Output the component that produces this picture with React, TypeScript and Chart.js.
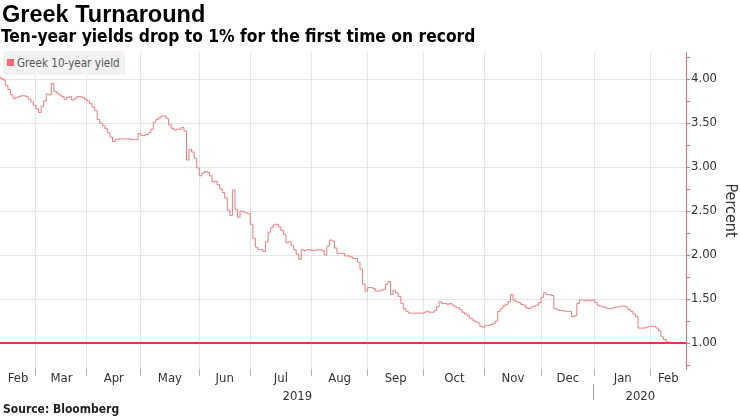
import React, { useEffect, useRef } from 'react';
import { Chart, registerables } from 'chart.js';

Chart.register(...registerables);

// Greek 10-year yield, one value per trading day (Feb 2019 – Feb 2020), percent
const YIELD_VALUES: number[] = [
  4.03, 4.01, 3.99, 3.93, 3.88, 3.82, 3.78, 3.79, 3.80, 3.81,
  3.81, 3.80, 3.77, 3.74, 3.70, 3.66, 3.62, 3.69, 3.75, 3.83,
  3.82, 3.95, 3.86, 3.84, 3.82, 3.80, 3.77, 3.79, 3.80, 3.76,
  3.78, 3.80, 3.80, 3.79, 3.77, 3.75, 3.72, 3.68, 3.64, 3.54,
  3.50, 3.47, 3.44, 3.39, 3.34, 3.29, 3.31, 3.32, 3.32, 3.32,
  3.32, 3.32, 3.31, 3.31, 3.31, 3.38, 3.36, 3.36, 3.37, 3.39,
  3.43, 3.51, 3.54, 3.56, 3.58, 3.58, 3.55, 3.48, 3.44, 3.42,
  3.43, 3.43, 3.45, 3.41, 3.08, 3.20, 3.17, 3.10, 2.99, 2.90,
  2.93, 2.95, 2.94, 2.90, 2.83, 2.84, 2.80, 2.75, 2.71, 2.65,
  2.51, 2.45, 2.74, 2.52, 2.43, 2.50, 2.49, 2.48, 2.47, 2.35,
  2.19, 2.09, 2.06, 2.06, 2.04, 2.15, 2.26, 2.31, 2.34, 2.35,
  2.32, 2.28, 2.23, 2.14, 2.15, 2.11, 2.06, 2.01, 1.95, 2.06,
  2.05, 2.06, 2.06, 2.05, 2.05, 2.06, 2.06, 2.05, 2.00, 2.10,
  2.17, 2.16, 2.08, 2.02, 2.02, 2.02, 1.99, 1.99, 1.98, 1.96,
  1.96, 1.92, 1.84, 1.67, 1.59, 1.63, 1.63, 1.62, 1.59, 1.59,
  1.60, 1.61, 1.67, 1.70, 1.55, 1.60, 1.57, 1.53, 1.45, 1.39,
  1.36, 1.34, 1.34, 1.34, 1.34, 1.34, 1.34, 1.35, 1.36, 1.35,
  1.35, 1.37, 1.41, 1.47, 1.45, 1.45, 1.44, 1.45, 1.43, 1.41,
  1.40, 1.38, 1.35, 1.33, 1.31, 1.28, 1.26, 1.24, 1.23, 1.19,
  1.18, 1.20, 1.20, 1.21, 1.22, 1.25, 1.36, 1.39, 1.42, 1.44,
  1.47, 1.55, 1.49, 1.47, 1.46, 1.44, 1.43, 1.40, 1.39, 1.41,
  1.42, 1.43, 1.46, 1.52, 1.57, 1.55, 1.55, 1.54, 1.39, 1.38,
  1.37, 1.37, 1.36, 1.36, 1.36, 1.30, 1.31, 1.45, 1.49, 1.49,
  1.48, 1.49, 1.48, 1.49, 1.46, 1.43, 1.42, 1.41, 1.40, 1.39,
  1.39, 1.40, 1.41, 1.41, 1.42, 1.42, 1.41, 1.38, 1.36, 1.33,
  1.30, 1.17, 1.17, 1.17, 1.18, 1.19, 1.19, 1.19, 1.17, 1.14,
  1.07, 1.04, 1.01, 1.01,
];

// 1% reference line
const FLOOR_LEVEL: number[] = [1.0, 1.0];

// trading-day index where each month begins (Mar 2019 ... Feb 2020)
const MONTH_STARTS: number[] = [14, 34, 55, 78, 98, 122, 144, 166, 190, 212, 233, 255];
const MONTH_LABELS: string[] = ['Feb', 'Mar', 'Apr', 'May', 'Jun', 'Jul', 'Aug', 'Sep', 'Oct', 'Nov', 'Dec', 'Jan', 'Feb'];
const YEAR_LABELS: string[] = ['2019', '2020'];
const YEAR_BREAK = 233;
const X_RANGE: number[] = [-0.1, 268.8];
const Y_RANGE: number[] = [0.705, 4.307];
const Y_STEP = 0.25;
const Y_LABEL_STEP = 0.5;

const LINE_COLOR = '#f07a7c';
const FLOOR_COLOR = '#e8344a';
const AXIS_COLOR = '#f06a75';
const GRID_COLOR = '#e6e6e6';
const TEXT_COLOR = '#333333';
const TICK_FONT = 'DejaVu Sans Condensed, DejaVu Sans, sans-serif';

const near = (a: number, b: number) => Math.abs(a - b) < 1e-6;

export default function App() {
  const ref = useRef<HTMLCanvasElement>(null);

  useEffect(() => {
    document.body.style.margin = '0';
    const canvas = ref.current;
    if (!canvas) return;
    const [xMin, xMax] = X_RANGE;
    const [yMin, yMax] = Y_RANGE;
    const bounds = [xMin, ...MONTH_STARTS, xMax];
    const monthMids = MONTH_LABELS.map((_, k) => (bounds[k] + bounds[k + 1]) / 2);
    const yearBounds = [xMin, YEAR_BREAK, xMax];
    const yearMids = YEAR_LABELS.map((_, k) => (yearBounds[k] + yearBounds[k + 1]) / 2);
    const isStart = (v: number) => MONTH_STARTS.some((s) => near(s, v));
    const isMajorY = (v: number) => near(Math.round(v / Y_LABEL_STEP) * Y_LABEL_STEP, v);

    const yearSeparator = {
      id: 'yearSeparator',
      afterDraw(chart: any) {
        const s = chart.scales.year;
        const ctx = chart.ctx;
        const x = Math.round(s.getPixelForValue(YEAR_BREAK)) - 1.5;
        ctx.save();
        ctx.strokeStyle = '#a0a0a0';
        ctx.lineWidth = 1;
        ctx.beginPath();
        ctx.moveTo(x, s.top - 3);
        ctx.lineTo(x, s.bottom - 3);
        ctx.stroke();
        ctx.restore();
      },
    };

    const chart = new Chart(canvas, {
      type: 'line',
      data: {
        datasets: [
          {
            label: '1%',
            data: FLOOR_LEVEL.map((v, k) => ({ x: X_RANGE[k], y: v })),
            borderColor: FLOOR_COLOR,
            borderWidth: 2,
            pointRadius: 0,
            order: 0,
          },
          {
            label: 'Greek 10-year yield',
            data: YIELD_VALUES.map((v, i) => ({ x: i, y: v })),
            borderColor: LINE_COLOR,
            borderWidth: 1,
            pointRadius: 0,
            stepped: 'after',
            order: 1,
          },
        ],
      },
      options: {
        animation: false,
        responsive: false,
        devicePixelRatio: 1,
        layout: { padding: { top: 52, bottom: 13, left: 0, right: 0 } },
        plugins: {
          legend: { display: false },
          tooltip: { enabled: false },
          title: { display: false },
        },
        scales: {
          x: {
            type: 'linear',
            position: 'bottom',
            min: xMin,
            max: xMax,
            afterBuildTicks: (scale: any) => {
              const vals = [...MONTH_STARTS, ...monthMids].sort((a, b) => a - b);
              scale.ticks = vals.map((value) => ({ value }));
            },
            afterFit: (scale: any) => {
              scale.height = 18;
            },
            ticks: {
              autoSkip: false,
              maxRotation: 0,
              padding: -5,
              color: TEXT_COLOR,
              font: { family: TICK_FONT, size: 13 },
              callback: (value: any) => {
                const k = monthMids.findIndex((m) => near(m, Number(value)));
                return k >= 0 ? MONTH_LABELS[k] : '';
              },
            },
            grid: {
              color: (ctx: any) => (ctx.tick && isStart(ctx.tick.value) ? GRID_COLOR : 'rgba(0,0,0,0)'),
              tickColor: (ctx: any) => (ctx.tick && isStart(ctx.tick.value) ? '#b0b0b0' : 'rgba(0,0,0,0)'),
              tickLength: 7,
            },
            border: { display: false },
          },
          year: {
            type: 'linear',
            position: 'bottom',
            min: xMin,
            max: xMax,
            afterBuildTicks: (scale: any) => {
              scale.ticks = yearMids.map((value) => ({ value }));
            },
            afterFit: (scale: any) => {
              scale.height = 16;
            },
            ticks: {
              autoSkip: false,
              maxRotation: 0,
              padding: 2,
              color: TEXT_COLOR,
              font: { family: TICK_FONT, size: 13 },
              callback: (value: any) => {
                const k = yearMids.findIndex((m) => near(m, Number(value)));
                return k >= 0 ? YEAR_LABELS[k] : '';
              },
            },
            grid: { display: false, drawTicks: false },
            border: { display: false },
          },
          y: {
            type: 'linear',
            position: 'right',
            min: yMin,
            max: yMax,
            afterBuildTicks: (scale: any) => {
              const out: { value: number }[] = [];
              for (let v = Math.ceil(yMin / Y_STEP) * Y_STEP; v <= yMax + 1e-9; v += Y_STEP) {
                out.push({ value: Math.round(v * 100) / 100 });
              }
              scale.ticks = out;
            },
            afterFit: (scale: any) => {
              scale.width = 54;
            },
            ticks: {
              padding: 1,
              color: TEXT_COLOR,
              font: { family: TICK_FONT, size: 13 },
              callback: (value: any) => (isMajorY(Number(value)) ? Number(value).toFixed(2) : ''),
            },
            grid: {
              color: (ctx: any) => (ctx.tick && isMajorY(ctx.tick.value) ? GRID_COLOR : 'rgba(0,0,0,0)'),
              tickColor: AXIS_COLOR,
              tickLength: 4,
            },
            border: { display: true, color: AXIS_COLOR, width: 1 },
            title: {
              display: true,
              text: 'Percent',
              color: TEXT_COLOR,
              font: { family: TICK_FONT, size: 16 },
              padding: { top: 0, bottom: 0 },
            },
          },
        },
      },
      plugins: [yearSeparator],
    } as any);

    return () => chart.destroy();
  }, []);

  return (
    <div style={{ position: 'relative', width: 740, height: 416, background: '#fff', overflow: 'hidden' }}>
      <canvas ref={ref} width={740} height={416} style={{ position: 'absolute', left: 0, top: 0 }} />
      <div
        style={{
          position: 'absolute', left: 2, top: 3, fontFamily: 'Liberation Sans, Arial, sans-serif',
          fontWeight: 700, fontSize: 23.5, lineHeight: '23.5px', color: '#000', whiteSpace: 'nowrap',
        }}
      >
        Greek Turnaround
      </div>
      <div
        style={{
          position: 'absolute', left: 1, top: 27.5, fontFamily: TICK_FONT,
          fontWeight: 700, fontSize: 17.3, lineHeight: '17px', color: '#000', whiteSpace: 'nowrap',
        }}
      >
        Ten-year yields drop to 1% for the first time on record
      </div>
      <div
        style={{
          position: 'absolute', left: 3, top: 51, width: 122, height: 24, background: '#f2f2f2',
        }}
      >
        <div style={{ position: 'absolute', left: 4, top: 8, width: 7, height: 7, background: '#f26a6e' }} />
        <div
          style={{
            position: 'absolute', left: 14, top: 0, lineHeight: '24px', fontSize: 11.6,
            fontFamily: TICK_FONT, color: '#555', whiteSpace: 'nowrap',
          }}
        >
          Greek 10-year yield
        </div>
      </div>
      <div
        style={{
          position: 'absolute', left: 3, top: 402, fontFamily: TICK_FONT, fontWeight: 700,
          fontSize: 12, lineHeight: '14px', color: '#222', whiteSpace: 'nowrap',
        }}
      >
        Source: Bloomberg
      </div>
    </div>
  );
}
